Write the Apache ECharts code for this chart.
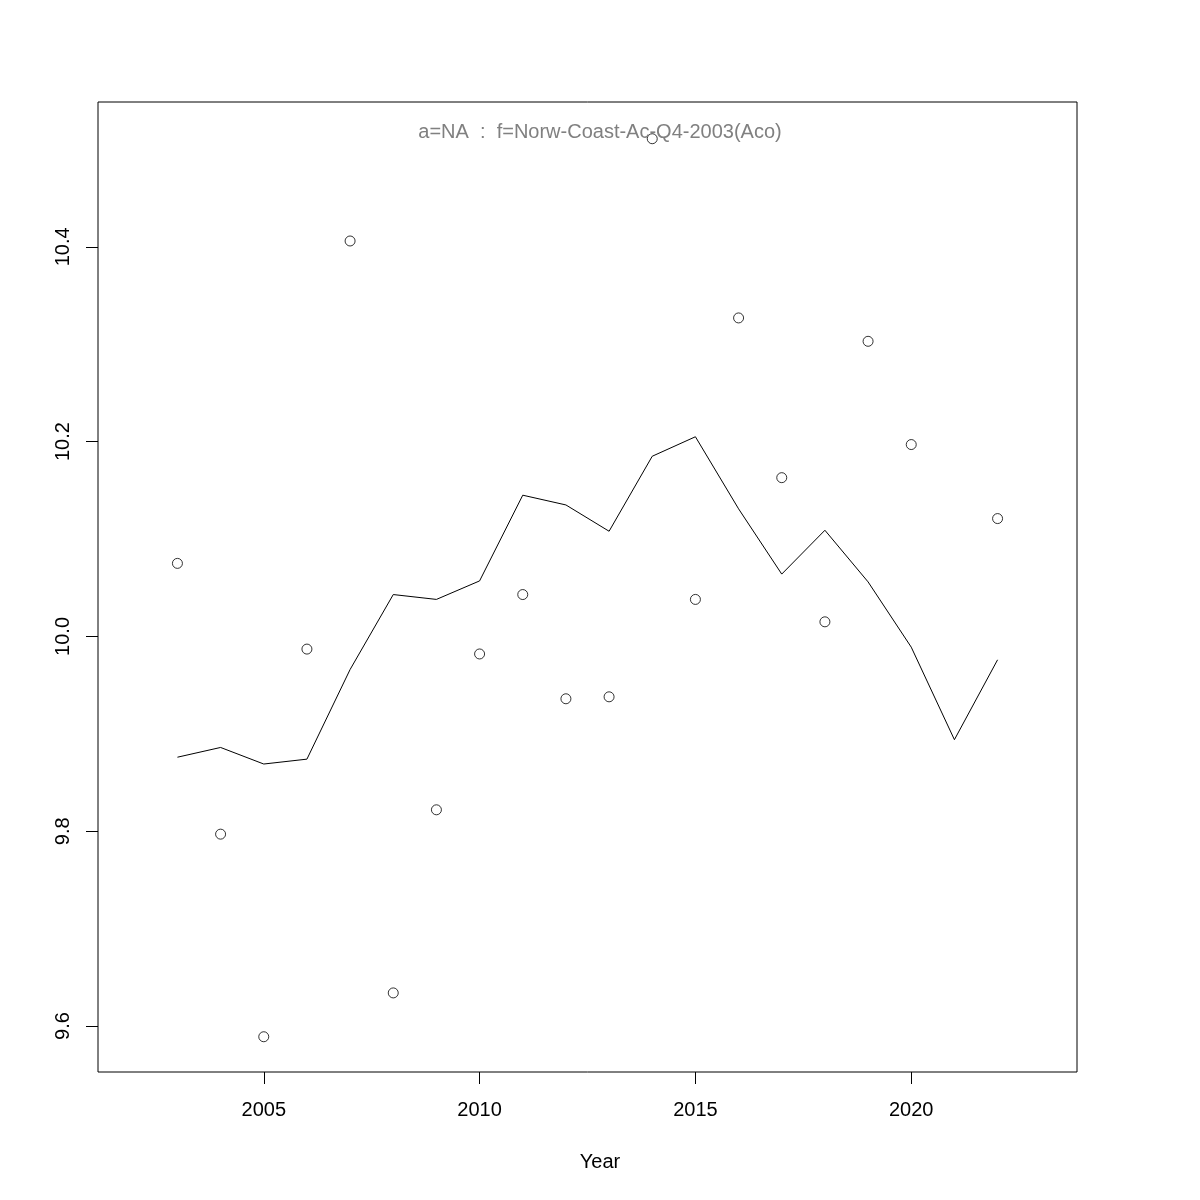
<!DOCTYPE html>
<html>
<head>
<meta charset="utf-8">
<script src="https://cdn.jsdelivr.net/npm/echarts@6/dist/echarts.min.js"></script>
<style>
html,body{margin:0;padding:0;background:#fff;}
#chart{width:1200px;height:1200px;}
</style>
</head>
<body>
<div id="chart"></div>
<script>
const years = [2003,2004,2005,2006,2007,2008,2009,2010,2011,2012,2013,2014,2015,2016,2017,2018,2019,2020,2021,2022];
const lineValues = [9.876,9.886,9.869,9.874,9.966,10.043,10.038,10.057,10.145,10.135,10.108,10.185,10.205,10.131,10.064,10.109,10.056,9.989,9.894,9.976];
const pointValues = [10.075,9.797,9.589,9.987,10.406,9.634,9.822,9.982,10.043,9.936,9.938,10.511,10.038,10.327,10.163,10.015,10.303,10.197,null,10.121];
const xTicks = [2005,2010,2015,2020];
const yTicks = [9.6,9.8,10.0,10.2,10.4];
const titleText = 'a=NA  :  f=Norw-Coast-Ac-Q4-2003(Aco)';
const xName = 'Year';

const lineData = years.map((y,i)=>[y,lineValues[i]]);
const pointData = years.map((y,i)=>[y,pointValues[i]]).filter(d=>d[1]!==null);

const font = "'Liberation Sans', Arial, Helvetica, sans-serif";
const chart = echarts.init(document.getElementById('chart'), null, {renderer:'canvas'});
chart.setOption({
  animation:false,
  backgroundColor:'#fff',
  title:{
    text:titleText,
    left:'center',
    top:117,
    textStyle:{color:'#808080',fontSize:20,fontWeight:'normal',fontFamily:font}
  },
  graphic:[{
    type:'text',x:600,y:1162,
    style:{text:xName,fill:'#000',fontSize:20,fontFamily:font,textAlign:'center',textVerticalAlign:'middle'}
  }],
  grid:{left:98,right:123,top:102,bottom:128,show:true,borderColor:'#000',borderWidth:1,backgroundColor:'transparent'},
  xAxis:{
    type:'value',min:2001.16,max:2023.84,
    axisLine:{show:false},
    splitLine:{show:false},
    axisTick:{show:true,length:12,customValues:xTicks,lineStyle:{color:'#000',width:1}},
    axisLabel:{customValues:xTicks,color:'#000',fontSize:20,fontFamily:font,margin:28,formatter:v=>String(v)}
  },
  yAxis:{
    type:'value',min:9.5528,max:10.5487,
    axisLine:{show:false},
    splitLine:{show:false},
    axisTick:{show:true,length:12,customValues:yTicks,lineStyle:{color:'#000',width:1}},
    axisLabel:{customValues:yTicks,color:'#000',fontSize:20,fontFamily:font,margin:25,rotate:90,formatter:v=>v.toFixed(1)}
  },
  series:[
    {type:'line',data:lineData,showSymbol:false,symbol:'none',lineStyle:{color:'#000',width:1},silent:true},
    {type:'scatter',data:pointData,symbol:'circle',symbolSize:10,itemStyle:{color:'rgba(0,0,0,0)',borderColor:'#000',borderWidth:1},silent:true}
  ]
});
</script>
</body>
</html>
